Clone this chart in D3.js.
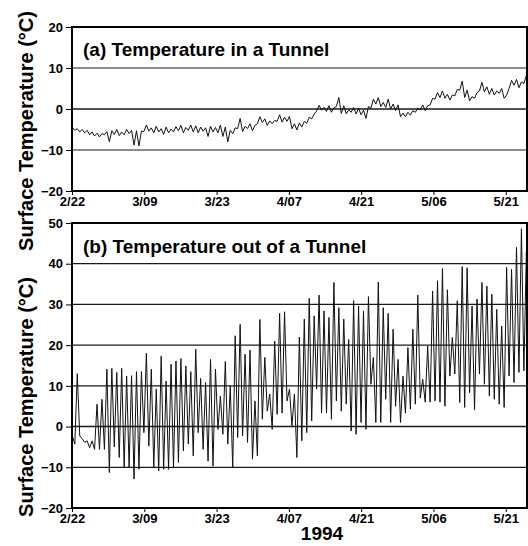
<!DOCTYPE html>
<html>
<head>
<meta charset="utf-8">
<script src="https://cdn.jsdelivr.net/npm/d3@7"></script>
<style>
  body { margin: 0; background: #fff; }
  svg { display: block; font-family: "Liberation Sans", Arial, sans-serif; font-weight: bold; }
</style>
</head>
<body>
<div class="chart"></div>
<script>
/////// DATA ///////////////////////////////////////
// daily peak (index k = day) and the trough that follows it, in deg C
let tickDays = [0, 14.65, 29.3, 43.95, 58.6, 73.25, 87.9];
let tickLabels = ['2/22', '3/09', '3/23', '4/07', '4/21', '5/06', '5/21'];

let inHigh = [-4.5, -4.8, -5.0, -5.2, -5.6, -5.9, -6.0, -5.5, -5.3, -5.0,
	-5.6, -5.0, -5.2, -5.3, -5.4, -3.9, -4.6, -4.2, -4.8, -4.4,
	-4.9, -4.3, -4.0, -4.5, -3.9, -4.1, -4.4, -4.6, -4.2, -4.5,
	-3.9, -4.4, -5.2, -4.6, -2.3, -4.2, -3.6, -4.0, -1.9, -2.4,
	-2.9, -2.8, -1.4, -2.0, -1.8, -3.6, -3.4, -3.0, -2.0, -1.2,
	0.9, 0.4, 0.8, 0.3, 2.8, 0.8, -0.2, 0.4, 0.2, -0.3,
	0.6, 2.4, 2.8, 1.6, 2.4, 1.2, 1.0, -1.0, -0.8, -0.4,
	0.2, 1.0, 0.8, 2.6, 4.0, 4.4, 3.6, 3.4, 4.8, 6.8,
	4.6, 3.0, 4.0, 6.5, 5.4, 5.0, 4.4, 5.0, 3.4, 7.0,
	7.2, 6.6, 8.2];
let inLow = [-5.2, -5.6, -5.8, -6.3, -6.6, -6.8, -6.3, -8.0, -6.2, -6.5,
	-6.3, -6.0, -8.8, -9.0, -5.5, -5.4, -5.8, -5.6, -6.2, -5.8,
	-5.6, -5.3, -5.8, -5.2, -5.6, -5.8, -5.4, -6.7, -5.6, -5.8,
	-6.7, -8.0, -6.0, -4.8, -5.5, -4.8, -5.3, -3.6, -3.3, -4.0,
	-3.6, -3.0, -3.2, -3.0, -4.8, -5.1, -4.4, -3.5, -2.4, -0.5,
	-0.3, -0.6, -0.8, 0.6, -1.1, -1.2, -0.8, -1.2, -1.4, -2.3,
	0.2, 1.2, 0.6, 0.4, 0.0, -0.4, -1.9, -1.9, -1.5, -0.8,
	-0.2, -0.4, 1.0, 2.4, 2.8, 2.6, 2.2, 3.2, 4.6, 2.8,
	2.0, 2.6, 4.4, 4.2, 3.6, 3.4, 3.8, 2.6, 5.0, 5.8,
	5.2, 6.2, 6.6];

let outHigh = [-2.3, 13, -3, -3.5, -3.5, 5.5, 6.7, 14.1, 14.3, 13.3,
	14.3, 12.4, 12.5, 13.5, 13.5, 18, 14.1, 9.2, 17.3, 11.2,
	15.3, 16.1, 16.7, 14.9, 13.5, 19, 11.8, 10.8, 16.5, 14.1,
	7.5, 16, 10, 22.3, 25.1, 17.8, 18.8, 6.3, 26.3, 17,
	8, 21, 27.8, 28.2, 9.2, 8, 22, 26.4, 31.5, 27.2,
	32.3, 28.4, 26.8, 35.4, 29.2, 26.4, 21.4, 30.9, 29.6, 28.4,
	31.9, 17, 35.5, 29.2, 27.8, 23.9, 16.5, 12.4, 19.4, 23.9,
	32.3, 11.6, 19.8, 33.3, 35.8, 38.8, 33.6, 21.9, 30.9, 39.3,
	39, 29.6, 31.3, 35.4, 34.5, 32.5, 28.8, 24.7, 39.1, 38.6,
	44, 48.6, 42.8];
let outLow = [-4.3, -2.3, -3.9, -5.2, -5.6, -5.6, -5.6, -11.3, -5, -7.6,
	-10.1, -10, -12.9, -10.5, -1.5, -4.8, -10, -10.9, -10.5, -10.5,
	-10, -8.8, -6, -4.3, -7.2, -1.5, -5.6, -8.5, -9.7, -0.7,
	-1.9, -4.3, -10.1, -2.7, -2.3, -3.9, -8, -7.2, 1.8, 3.8,
	-0.7, 3, 3.3, 6.3, 0.2, -7.6, -3.5, -1.5, 1.4, 9.2,
	3.3, 3.3, 1.8, 6.3, 3.8, 5.5, -1.1, -1.9, 1, -0.7,
	10.4, 1, 1, 6.7, 1, 5, 1, 3.3, 4.3, 5.5,
	7, 6, 6, 6.3, 6, 5, 12.4, 12.9, 5.9, 4.7,
	8.3, 4.1, 12.9, 10.4, 7.5, 6.7, 5.5, 4.7, 12.4, 10.8,
	13.3, 13.7, 14.9];

let inTicks = [-20, -10, 0, 10, 20];
let outTicks = [-20, -10, 0, 10, 20, 30, 40, 50];

/////// SETUP ///////////////////////////////////////
let width = 528, height = 546;
let plotLeft = 72, plotRight = 527;

let svg = d3.select('.chart').append('svg')
		.attr('width', width)
		.attr('height', height);

let x = d3.scaleLinear()
		.domain([0, 92.2])
		.range([plotLeft, plotRight]);

// peak at k + 0.07 days, trough half a day later
let buildSeries = function(highs, lows) {
	let pts = [];
	highs.forEach((h, k) => {
		pts.push({ t: k + 0.07, v: h });
		if (lows[k] !== undefined) pts.push({ t: k + 0.57, v: lows[k] });
	});
	return pts;
};

/////// PANELS ///////////////////////////////////////
let drawPanel = function(opts) {
	let y = d3.scaleLinear()
			.domain(d3.extent(opts.ticks))
			.range([opts.bottom, opts.top]);

	let g = svg.append('g');

	g.append('clipPath').attr('id', opts.id)
		.append('rect')
			.attr('x', plotLeft).attr('y', opts.top)
			.attr('width', plotRight - plotLeft).attr('height', opts.bottom - opts.top);

	// grid
	g.selectAll('.grid')
		.data(opts.ticks.slice(1, -1))
		.enter().append('line')
			.attr('x1', plotLeft).attr('x2', plotRight)
			.attr('y1', d => y(d)).attr('y2', d => y(d))
			.attr('stroke', '#1a1a1a')
			.attr('stroke-width', d => d === 0 ? 1.6 : 1.2);

	// y axis
	let yAxis = g.append('g')
			.attr('transform', `translate(${plotLeft},0)`)
			.call(d3.axisLeft(y).tickValues(opts.ticks).tickSize(6).tickPadding(3));
	yAxis.select('.domain').remove();
	yAxis.selectAll('text')
			.attr('font-size', 13)
			.attr('font-family', '"Liberation Sans", Arial, sans-serif')
			.attr('font-weight', 'bold')
			.attr('fill', '#000');

	// x axis
	let xAxis = g.append('g')
			.attr('transform', `translate(0,${opts.bottom})`)
			.call(d3.axisBottom(x).tickValues(tickDays).tickFormat((d, i) => tickLabels[i])
				.tickSize(4).tickPadding(2));
	xAxis.select('.domain').remove();
	xAxis.selectAll('text')
			.attr('font-size', 13)
			.attr('font-family', '"Liberation Sans", Arial, sans-serif')
			.attr('font-weight', 'bold')
			.attr('fill', '#000');

	// data line
	let line = d3.line()
			.x(d => x(d.t))
			.y(d => y(d.v));
	g.append('path')
			.datum(opts.series)
			.attr('clip-path', `url(#${opts.id})`)
			.attr('d', line)
			.attr('fill', 'none')
			.attr('stroke', '#111')
			.attr('stroke-width', 1)
			.attr('stroke-linejoin', 'round');

	// frame
	g.append('rect')
			.attr('x', plotLeft).attr('y', opts.top)
			.attr('width', plotRight - plotLeft).attr('height', opts.bottom - opts.top)
			.attr('fill', 'none')
			.attr('stroke', '#000')
			.attr('stroke-width', 2);

	g.append('text')
			.attr('x', 83).attr('y', opts.titleY)
			.attr('font-size', 19)
			.text(opts.title);

	g.append('text')
			.attr('transform', `translate(33,${opts.labelY}) rotate(-90)`)
			.attr('text-anchor', 'middle')
			.attr('font-size', 20)
			.text('Surface Temperature (°C)');
};

drawPanel({
	id: 'clipA', top: 27, bottom: 191, ticks: inTicks,
	series: buildSeries(inHigh, inLow),
	title: '(a) Temperature in a Tunnel', titleY: 56, labelY: 131
});

drawPanel({
	id: 'clipB', top: 223, bottom: 508, ticks: outTicks,
	series: buildSeries(outHigh, outLow),
	title: '(b) Temperature out of a Tunnel', titleY: 253, labelY: 397
});

svg.append('text')
		.attr('x', 322).attr('y', 540)
		.attr('text-anchor', 'middle')
		.attr('font-size', 19)
		.text('1994');
</script>
</body>
</html>
